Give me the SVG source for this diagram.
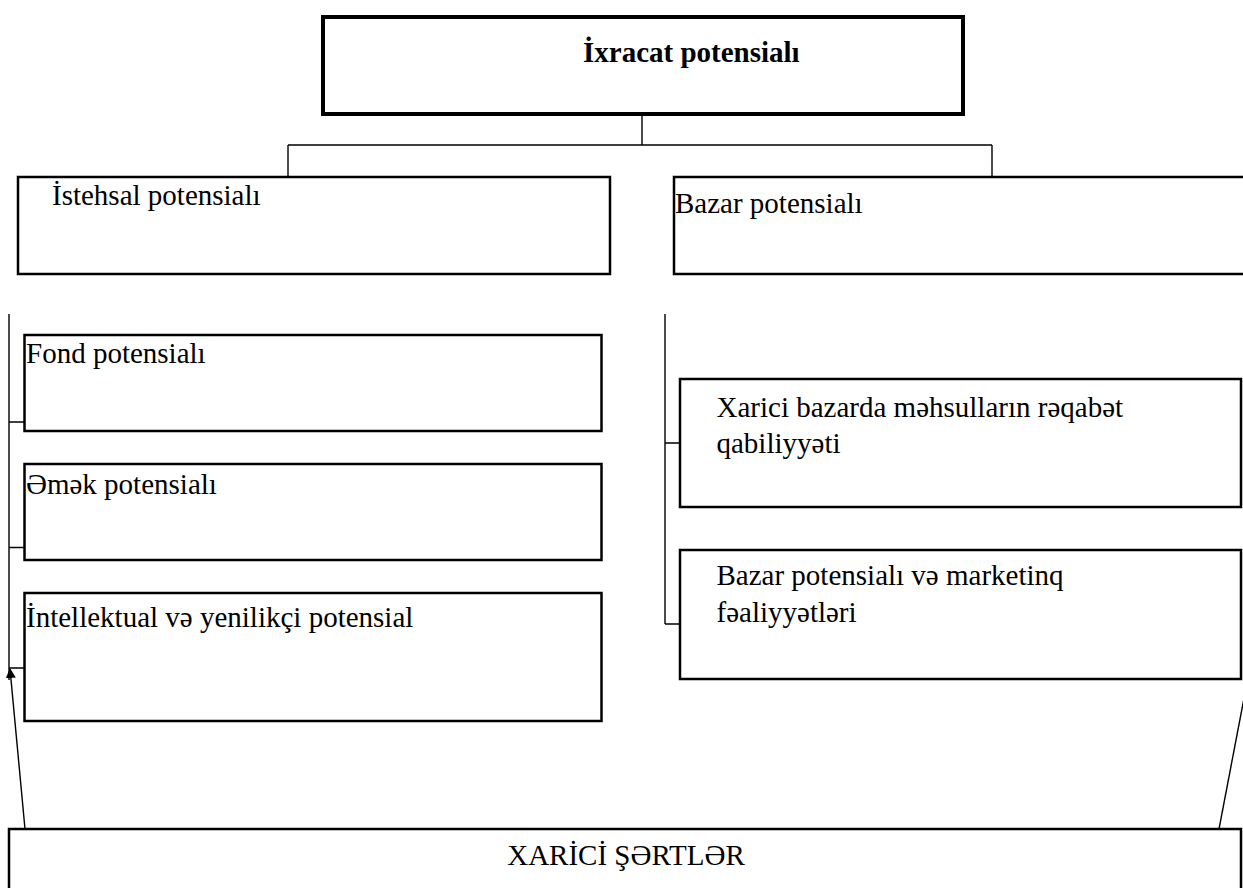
<svg xmlns="http://www.w3.org/2000/svg" width="1243" height="888" viewBox="0 0 1243 888">
<style>
.t{font-family:"Liberation Serif","Times New Roman",serif;font-size:29px;fill:#000}
.b{font-weight:bold}
.box{fill:#fff;stroke:#000;stroke-width:2.5}
.thick{fill:#fff;stroke:#000;stroke-width:4}
.ln{fill:none;stroke:#000;stroke-width:1.4}
</style>
<defs>
<marker id="ah" viewBox="0 0 10 10" refX="9" refY="5" markerWidth="10" markerHeight="10" markerUnits="userSpaceOnUse" orient="auto">
<path d="M0,0 L10,5 L0,10 z" fill="#000"/>
</marker>
</defs>
<rect width="1243" height="888" fill="#fff"/>
<g id="connectors">
<path class="ln" d="M642,116 V145 M288,145 H992 M288,145 V177 M992,145 V177"/>
<path class="ln" d="M9,314 V680 M9,422 H24 M9,547.5 H24 M9,668 H24"/>
<path class="ln" d="M665,314 V624 M665,443 H680 M665,624 H680"/>
<line class="ln" x1="25" y1="829" x2="10" y2="669" marker-end="url(#ah)"/>
<line class="ln" x1="1219" y1="829" x2="1245" y2="693"/>
</g>
<g id="node-ixracat">
<rect class="thick" x="323" y="17" width="640" height="97"/>
<text class="t b" x="583" y="62">İxracat potensialı</text>
</g>
<g id="node-istehsal">
<rect class="box" x="18" y="177" width="592" height="97"/>
<text class="t" x="52" y="205">İstehsal potensialı</text>
</g>
<g id="node-bazar">
<path class="box" d="M1250,177 H674 V274 H1250"/>
<text class="t" x="675" y="213">Bazar potensialı</text>
</g>
<g id="node-fond">
<rect class="box" x="24.5" y="335" width="577" height="96"/>
<text class="t" x="26" y="363">Fond potensialı</text>
</g>
<g id="node-emek">
<rect class="box" x="24.5" y="464" width="577" height="96"/>
<text class="t" x="26" y="494">Əmək potensialı</text>
</g>
<g id="node-intellektual">
<rect class="box" x="24.5" y="593" width="577" height="128"/>
<text class="t" x="26" y="627">İntellektual və yenilikçi potensial</text>
</g>
<g id="node-xarici-bazar">
<rect class="box" x="680" y="379" width="561" height="128"/>
<text class="t" x="716.5" y="417">Xarici bazarda məhsulların rəqabət</text>
<text class="t" x="716.5" y="453">qabiliyyəti</text>
</g>
<g id="node-marketinq">
<rect class="box" x="680" y="550" width="561" height="129"/>
<text class="t" x="716.5" y="585">Bazar potensialı və marketinq</text>
<text class="t" x="716.5" y="621.5">fəaliyyətləri</text>
</g>
<g id="node-xarici-sertler">
<path class="box" d="M9,900 V829 H1241 V900"/>
<text class="t" x="626" y="865" text-anchor="middle">XARİCİ ŞƏRTLƏR</text>
</g>
</svg>
